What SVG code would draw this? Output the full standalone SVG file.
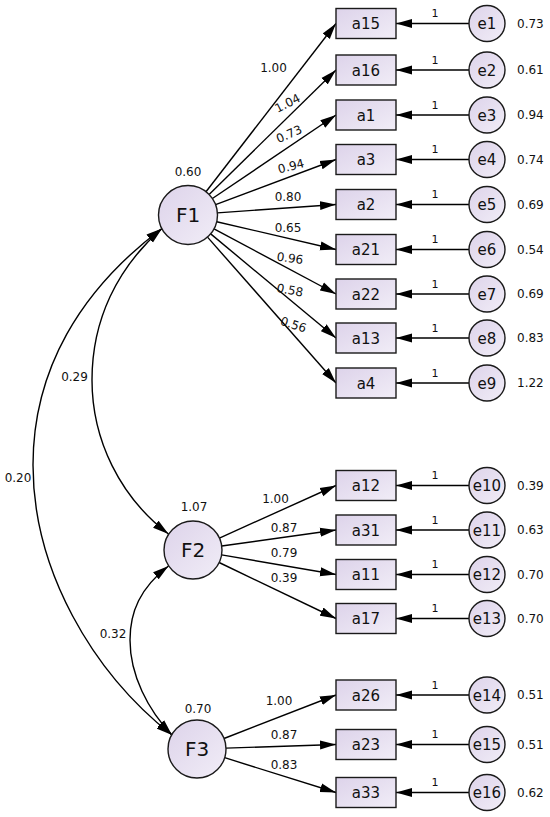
<svg xmlns="http://www.w3.org/2000/svg" width="550" height="817" viewBox="0 0 550 817">
<defs>
<linearGradient id="g" x1="0" y1="0" x2="1" y2="1">
<stop offset="0" stop-color="#ddd3ea"/>
<stop offset="1" stop-color="#f1edf7"/>
</linearGradient>
<marker id="ah" markerUnits="userSpaceOnUse" markerWidth="17" markerHeight="10" refX="16" refY="5" orient="auto-start-reverse" viewBox="0 0 17 10">
<path d="M0,0.5 L16,5 L0,9.5 z" fill="#000"/>
</marker>
</defs>
<style>
.n{fill:url(#g);stroke:#1a1a1a;stroke-width:1.4}
.c{fill:none;stroke:#000;stroke-width:1.4}
.a{marker-end:url(#ah)}
.d{marker-start:url(#ah);marker-end:url(#ah)}
.lf{font-family:"DejaVu Sans",Verdana,sans-serif;font-size:20px;text-anchor:middle;fill:#111}
.lb{font-family:"DejaVu Sans",Verdana,sans-serif;font-size:15px;text-anchor:middle;fill:#111}
.v{font-family:"DejaVu Sans",Verdana,sans-serif;font-size:12px;fill:#111}
.vm{font-family:"DejaVu Sans",Verdana,sans-serif;font-size:12px;text-anchor:middle;fill:#111}
.one{font-family:"DejaVu Sans",Verdana,sans-serif;font-size:11px;text-anchor:middle;fill:#111}
</style>
<rect width="550" height="817" fill="#fff"/>

<g id="connectors">
<!-- covariances -->
<path class="c d" d="M162,228.5 C117,268 92,320 92,380 C92,440 120,497 168.5,534"/>
<path class="c d" d="M162,228.5 C80,290 33,370 33,465 C33,570 92,672 172,735"/>
<path class="c d" d="M168.5,566 C140,588 130,612 130,640 C130,675 148,710 172,735"/>
<!-- F1 loadings -->
<line class="c a" x1="206" y1="191.7" x2="336" y2="23.5"/>
<line class="c a" x1="209.1" y1="194.4" x2="336" y2="70"/>
<line class="c a" x1="212.4" y1="198.5" x2="336" y2="115"/>
<line class="c a" x1="215.6" y1="204.6" x2="336" y2="159.5"/>
<line class="c a" x1="217.4" y1="212.9" x2="336" y2="204.5"/>
<line class="c a" x1="216.7" y1="221.7" x2="336" y2="249.5"/>
<line class="c a" x1="214" y1="228.9" x2="336" y2="294"/>
<line class="c a" x1="210.7" y1="233.9" x2="336" y2="338"/>
<line class="c a" x1="207.5" y1="237.1" x2="336" y2="383"/>
<!-- F2 loadings -->
<line class="c a" x1="219.4" y1="538.1" x2="336" y2="485.5"/>
<line class="c a" x1="221.7" y1="546" x2="336" y2="530"/>
<line class="c a" x1="221.6" y1="554.9" x2="336" y2="574.5"/>
<line class="c a" x1="219.1" y1="562.5" x2="336" y2="618.5"/>
<!-- F3 loadings -->
<line class="c a" x1="224" y1="738.5" x2="336" y2="695"/>
<line class="c a" x1="226" y1="748.1" x2="336" y2="744.5"/>
<line class="c a" x1="224.7" y1="757.7" x2="336" y2="792.5"/>
<!-- error paths -->
<line class="c a" x1="469" y1="23.5" x2="396" y2="23.5"/>
<line class="c a" x1="469" y1="70" x2="396" y2="70"/>
<line class="c a" x1="469" y1="115" x2="396" y2="115"/>
<line class="c a" x1="469" y1="159.5" x2="396" y2="159.5"/>
<line class="c a" x1="469" y1="204.5" x2="396" y2="204.5"/>
<line class="c a" x1="469" y1="249.5" x2="396" y2="249.5"/>
<line class="c a" x1="469" y1="294" x2="396" y2="294"/>
<line class="c a" x1="469" y1="338" x2="396" y2="338"/>
<line class="c a" x1="469" y1="383" x2="396" y2="383"/>
<line class="c a" x1="469" y1="485.5" x2="396" y2="485.5"/>
<line class="c a" x1="469" y1="530" x2="396" y2="530"/>
<line class="c a" x1="469" y1="574.5" x2="396" y2="574.5"/>
<line class="c a" x1="469" y1="618.5" x2="396" y2="618.5"/>
<line class="c a" x1="469" y1="695" x2="396" y2="695"/>
<line class="c a" x1="469" y1="744.5" x2="396" y2="744.5"/>
<line class="c a" x1="469" y1="792.5" x2="396" y2="792.5"/>
<!-- labels -->
<text class="vm" x="273.5" y="72">1.00</text>
<text class="vm" transform="translate(287.5,103) rotate(-27)" x="0" y="4.3">1.04</text>
<text class="vm" transform="translate(289,134) rotate(-24)" x="0" y="4.3">0.73</text>
<text class="vm" transform="translate(291,166) rotate(-14)" x="0" y="4.3">0.94</text>
<text class="vm" x="288" y="201.3">0.80</text>
<text class="vm" x="288" y="232.3">0.65</text>
<text class="vm" transform="translate(290,258) rotate(8)" x="0" y="4.3">0.96</text>
<text class="vm" transform="translate(290,290) rotate(11)" x="0" y="4.3">0.58</text>
<text class="vm" transform="translate(293.5,324.5) rotate(18)" x="0" y="4.3">0.56</text>
<text class="vm" x="275.5" y="503.3">1.00</text>
<text class="vm" x="284" y="532.3">0.87</text>
<text class="vm" x="284" y="557.3">0.79</text>
<text class="vm" x="284" y="582.3">0.39</text>
<text class="vm" x="279" y="705.3">1.00</text>
<text class="vm" x="284" y="739.3">0.87</text>
<text class="vm" x="284" y="768.6">0.83</text>
<text class="vm" x="74.5" y="381.3">0.29</text>
<text class="vm" x="18" y="482.3">0.20</text>
<text class="vm" x="113" y="638.3">0.32</text>
<text class="one" x="435" y="17">1</text>
<text class="one" x="435" y="63.5">1</text>
<text class="one" x="435" y="108.5">1</text>
<text class="one" x="435" y="153">1</text>
<text class="one" x="435" y="198">1</text>
<text class="one" x="435" y="243">1</text>
<text class="one" x="435" y="287.5">1</text>
<text class="one" x="435" y="331.5">1</text>
<text class="one" x="435" y="376.5">1</text>
<text class="one" x="435" y="479">1</text>
<text class="one" x="435" y="523.5">1</text>
<text class="one" x="435" y="568">1</text>
<text class="one" x="435" y="612">1</text>
<text class="one" x="435" y="688.5">1</text>
<text class="one" x="435" y="738">1</text>
<text class="one" x="435" y="786">1</text>
</g>

<g id="F1"><circle class="n" cx="188" cy="215" r="29.5"/><text class="lf" x="188" y="222.3">F1</text><text class="vm" x="188" y="176.3">0.60</text></g>
<g id="F2"><circle class="n" cx="193" cy="550" r="29"/><text class="lf" x="193" y="557.3">F2</text><text class="vm" x="194" y="511.3">1.07</text></g>
<g id="F3"><circle class="n" cx="197" cy="749" r="29"/><text class="lf" x="197" y="756.3">F3</text><text class="vm" x="198" y="713.3">0.70</text></g>

<g id="a15"><rect class="n" x="336" y="8.5" width="60" height="30"/><text class="lb" x="366" y="29">a15</text></g>
<g id="a16"><rect class="n" x="336" y="55" width="60" height="30"/><text class="lb" x="366" y="75.5">a16</text></g>
<g id="a1"><rect class="n" x="336" y="100" width="60" height="30"/><text class="lb" x="366" y="120.5">a1</text></g>
<g id="a3"><rect class="n" x="336" y="144.5" width="60" height="30"/><text class="lb" x="366" y="165">a3</text></g>
<g id="a2"><rect class="n" x="336" y="189.5" width="60" height="30"/><text class="lb" x="366" y="210">a2</text></g>
<g id="a21"><rect class="n" x="336" y="234.5" width="60" height="30"/><text class="lb" x="366" y="255">a21</text></g>
<g id="a22"><rect class="n" x="336" y="279" width="60" height="30"/><text class="lb" x="366" y="299.5">a22</text></g>
<g id="a13"><rect class="n" x="336" y="323" width="60" height="30"/><text class="lb" x="366" y="343.5">a13</text></g>
<g id="a4"><rect class="n" x="336" y="368" width="60" height="30"/><text class="lb" x="366" y="388.5">a4</text></g>
<g id="a12"><rect class="n" x="336" y="470.5" width="60" height="30"/><text class="lb" x="366" y="491">a12</text></g>
<g id="a31"><rect class="n" x="336" y="515" width="60" height="30"/><text class="lb" x="366" y="535.5">a31</text></g>
<g id="a11"><rect class="n" x="336" y="559.5" width="60" height="30"/><text class="lb" x="366" y="580">a11</text></g>
<g id="a17"><rect class="n" x="336" y="603.5" width="60" height="30"/><text class="lb" x="366" y="624">a17</text></g>
<g id="a26"><rect class="n" x="336" y="680" width="60" height="30"/><text class="lb" x="366" y="700.5">a26</text></g>
<g id="a23"><rect class="n" x="336" y="729.5" width="60" height="30"/><text class="lb" x="366" y="750">a23</text></g>
<g id="a33"><rect class="n" x="336" y="777.5" width="60" height="30"/><text class="lb" x="366" y="798">a33</text></g>

<g id="e1"><circle class="n" cx="487" cy="23.5" r="18"/><text class="lb" x="487" y="29">e1</text><text class="v" x="517" y="27.8">0.73</text></g>
<g id="e2"><circle class="n" cx="487" cy="70" r="18"/><text class="lb" x="487" y="75.5">e2</text><text class="v" x="517" y="74.3">0.61</text></g>
<g id="e3"><circle class="n" cx="487" cy="115" r="18"/><text class="lb" x="487" y="120.5">e3</text><text class="v" x="517" y="119.3">0.94</text></g>
<g id="e4"><circle class="n" cx="487" cy="159.5" r="18"/><text class="lb" x="487" y="165">e4</text><text class="v" x="517" y="163.8">0.74</text></g>
<g id="e5"><circle class="n" cx="487" cy="204.5" r="18"/><text class="lb" x="487" y="210">e5</text><text class="v" x="517" y="208.8">0.69</text></g>
<g id="e6"><circle class="n" cx="487" cy="249.5" r="18"/><text class="lb" x="487" y="255">e6</text><text class="v" x="517" y="253.8">0.54</text></g>
<g id="e7"><circle class="n" cx="487" cy="294" r="18"/><text class="lb" x="487" y="299.5">e7</text><text class="v" x="517" y="298.3">0.69</text></g>
<g id="e8"><circle class="n" cx="487" cy="338" r="18"/><text class="lb" x="487" y="343.5">e8</text><text class="v" x="517" y="342.3">0.83</text></g>
<g id="e9"><circle class="n" cx="487" cy="383" r="18"/><text class="lb" x="487" y="388.5">e9</text><text class="v" x="517" y="387.3">1.22</text></g>
<g id="e10"><circle class="n" cx="487" cy="485.5" r="18"/><text class="lb" x="487" y="491">e10</text><text class="v" x="517" y="489.8">0.39</text></g>
<g id="e11"><circle class="n" cx="487" cy="530" r="18"/><text class="lb" x="487" y="535.5">e11</text><text class="v" x="517" y="534.3">0.63</text></g>
<g id="e12"><circle class="n" cx="487" cy="574.5" r="18"/><text class="lb" x="487" y="580">e12</text><text class="v" x="517" y="578.8">0.70</text></g>
<g id="e13"><circle class="n" cx="487" cy="618.5" r="18"/><text class="lb" x="487" y="624">e13</text><text class="v" x="517" y="622.8">0.70</text></g>
<g id="e14"><circle class="n" cx="487" cy="695" r="18"/><text class="lb" x="487" y="700.5">e14</text><text class="v" x="517" y="699.3">0.51</text></g>
<g id="e15"><circle class="n" cx="487" cy="744.5" r="18"/><text class="lb" x="487" y="750">e15</text><text class="v" x="517" y="748.8">0.51</text></g>
<g id="e16"><circle class="n" cx="487" cy="792.5" r="18"/><text class="lb" x="487" y="798">e16</text><text class="v" x="517" y="796.8">0.62</text></g>
</svg>
